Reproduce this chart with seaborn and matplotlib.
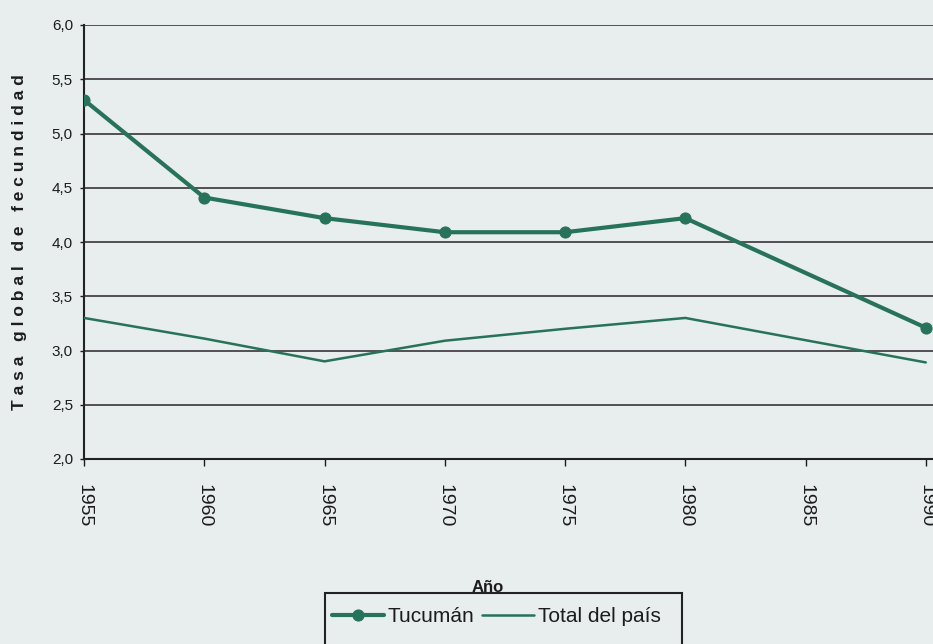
import numpy as np
import pandas as pd
import matplotlib
matplotlib.use("Agg")
import matplotlib.pyplot as plt
import seaborn as sns
from matplotlib.ticker import FuncFormatter
from matplotlib.patches import Rectangle

# ---- data ----
years = [1955, 1960, 1965, 1970, 1975, 1980, 1985, 1990]
tucuman = [5.31, 4.41, 4.22, 4.09, 4.09, 4.22, np.nan, 3.21]
total_pais = [3.30, 3.11, 2.90, 3.09, 3.20, 3.30, np.nan, 2.89]
series_names = ["Tucumán", "Total del país"]
y_ticks = [2.0, 2.5, 3.0, 3.5, 4.0, 4.5, 5.0, 5.5, 6.0]

BG = "#e8edee"
GREEN = "#277359"
GRID = "#48424a"
TXT = "#1c1c1c"

sns.set_theme(style="white")
plt.rcParams["font.family"] = ["Liberation Sans", "DejaVu Sans"]

df = pd.DataFrame({
    "Año": years * 2,
    "Tasa": tucuman + total_pais,
    "Serie": [series_names[0]] * len(years) + [series_names[1]] * len(years),
}).dropna()

W, H = 933, 644
fig = plt.figure(figsize=(W / 100, H / 100), dpi=100, facecolor=BG)
ax = fig.add_axes([84 / W, 185 / H, (W - 84) / W, 434 / H])
ax.set_facecolor(BG)

sns.lineplot(data=df[df["Serie"] == series_names[1]], x="Año", y="Tasa",
             color=GREEN, linewidth=1.8, ax=ax, label=series_names[1], zorder=3)
sns.lineplot(data=df[df["Serie"] == series_names[0]], x="Año", y="Tasa",
             color=GREEN, linewidth=3.0, marker="o", markersize=8,
             markeredgecolor=GREEN, ax=ax, label=series_names[0], zorder=4)

ax.set_xlim(1955, 1990.3)
ax.set_ylim(2.0, 6.0)
ax.set_yticks(y_ticks)
ax.yaxis.set_major_formatter(FuncFormatter(lambda v, p: f"{v:.1f}".replace(".", ",")))
ax.set_xticks(years)
ax.set_xticklabels([str(y) for y in years], rotation=-90, fontsize=14, color=TXT)
for lab in ax.get_yticklabels():
    lab.set_fontsize(11)
    lab.set_color(TXT)

ax.yaxis.grid(True, color=GRID, linewidth=1.3)
ax.xaxis.grid(False)
for s in ["top", "right"]:
    ax.spines[s].set_visible(False)
for s in ["left", "bottom"]:
    ax.spines[s].set_color("#222222")
    ax.spines[s].set_linewidth(1.5)
ax.tick_params(axis="y", direction="out", length=3, width=1, pad=5, left=True, colors=TXT)
ax.tick_params(axis="x", direction="out", length=5, width=1, pad=13, bottom=True, colors=TXT)
ax.set_xlabel("")
ax.set_ylabel("")

fig.text(20 / W, 1 - 242 / H, "T a s a   g l o b a l   d e   f e c u n d i d a d",
         rotation=90, ha="center", va="center", fontsize=12.5, fontweight="bold", color=TXT)
fig.text(488 / W, 1 - 588 / H, "Año", ha="center", va="center",
         fontsize=12, fontweight="bold", color=TXT)

# legend
ax.get_legend().remove()
handles, labels = ax.get_legend_handles_labels()
order = [labels.index(n) for n in series_names]
fig.legend([handles[i] for i in order], [labels[i] for i in order],
           loc="center left", bbox_to_anchor=(332 / W, 1 - 617 / H), ncol=2,
           frameon=False, fontsize=15, handlelength=2.5, handletextpad=0.15,
           columnspacing=0.4, borderpad=0, borderaxespad=0, labelcolor=TXT)
fig.patches.append(Rectangle((325 / W, -0.05), (682 - 325) / W, (1 - 593 / H) + 0.05,
                             transform=fig.transFigure, fill=False,
                             edgecolor="#222222", linewidth=1.5, clip_on=False))

fig.savefig("out.png", dpi=100, facecolor=BG)
